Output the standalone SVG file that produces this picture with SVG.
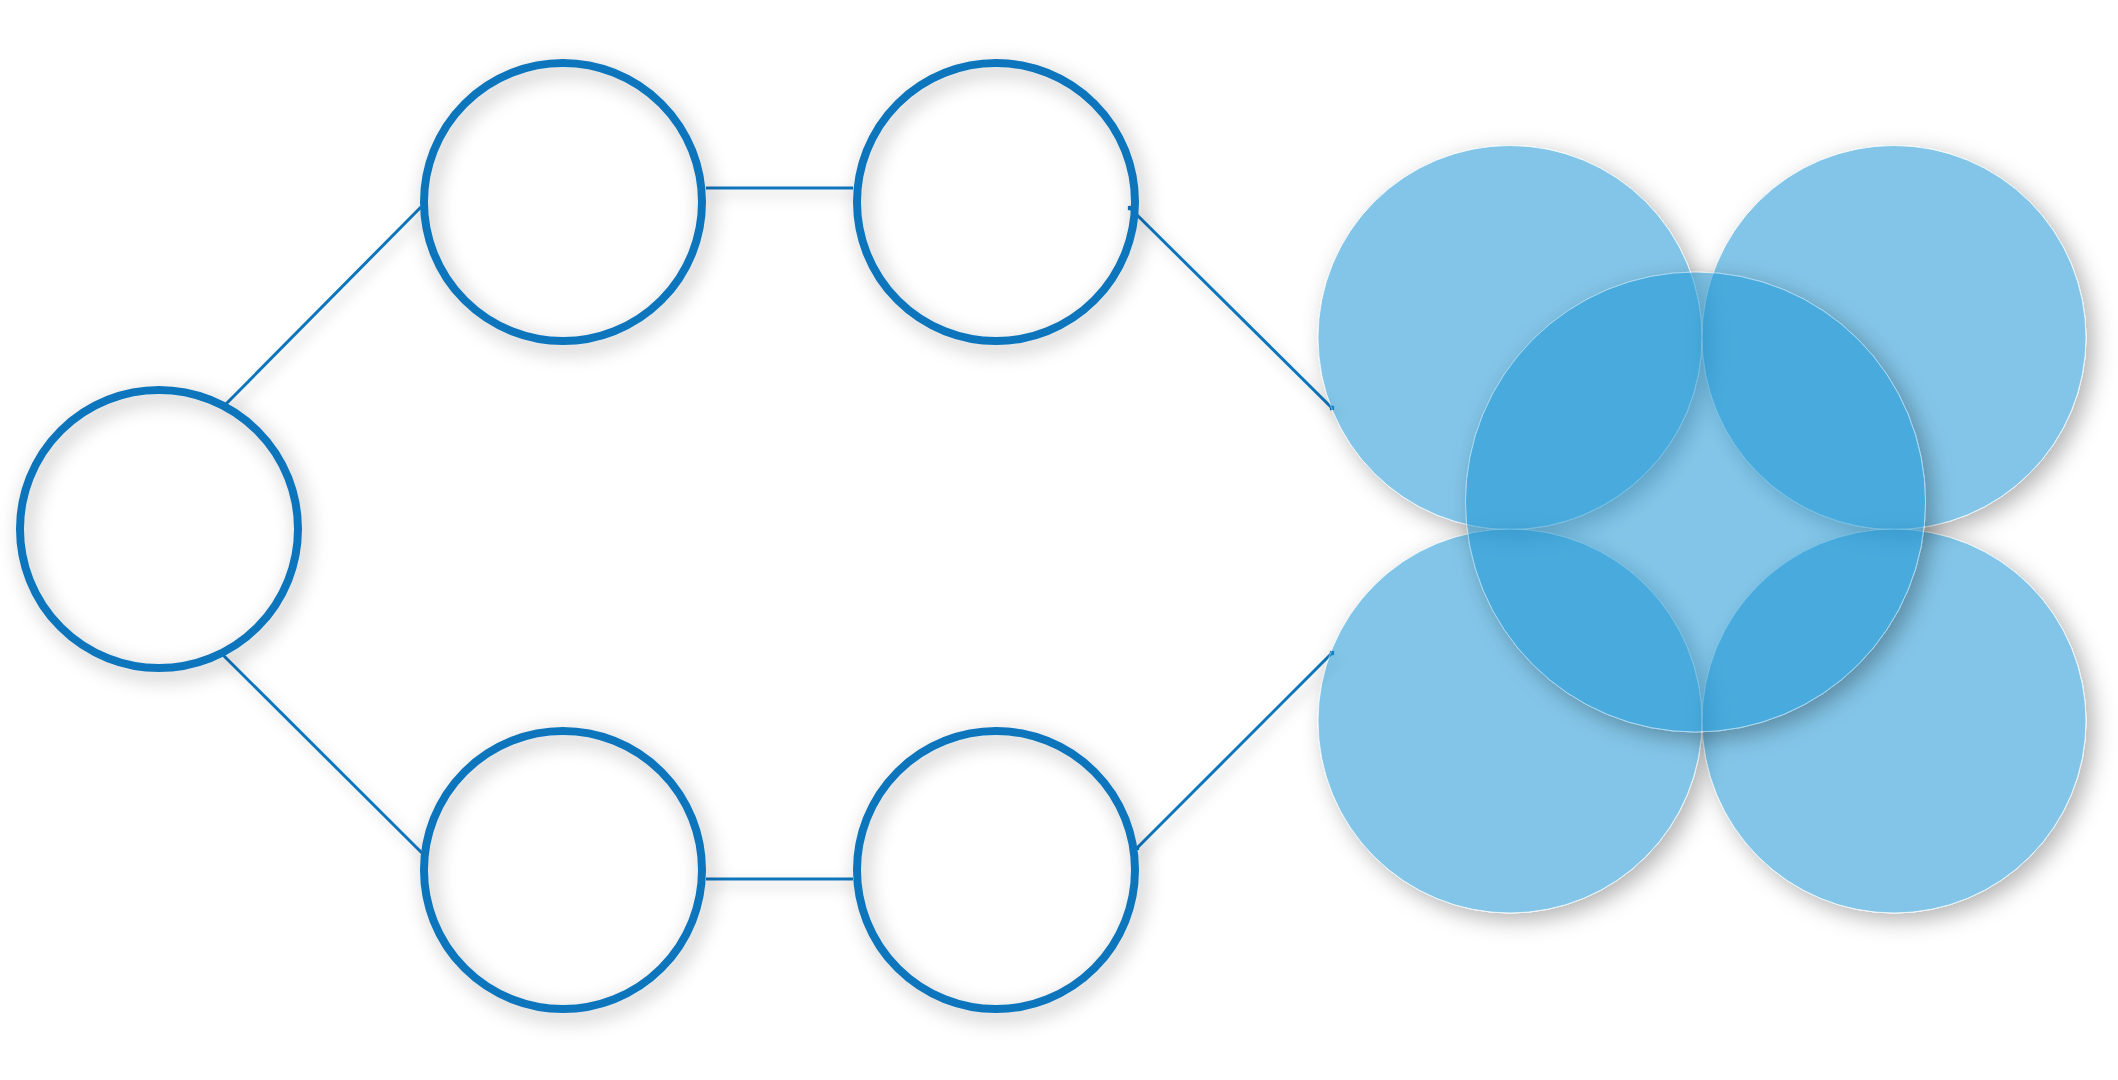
<svg xmlns="http://www.w3.org/2000/svg" width="2118" height="1080" viewBox="0 0 2118 1080">
  <style>
    .ring { fill: none; stroke: #0F75BC; stroke-width: 8; filter: url(#ds); }
    .conn { stroke: #0F75BC; stroke-width: 3; fill: none; stroke-linecap: butt; }
    .blob { fill: #0A92D3; stroke: #FFFFFF; stroke-width: 1; stroke-opacity: 0.8; filter: url(#ko); }
  </style>
  <defs>
    <filter id="ds" x="-25%" y="-25%" width="160%" height="160%">
      <feDropShadow dx="5" dy="6" stdDeviation="10" flood-color="#000000" flood-opacity="0.33"/>
    </filter>
    <filter id="dsl" x="-20%" y="-20%" width="150%" height="150%">
      <feDropShadow dx="5" dy="6" stdDeviation="7" flood-color="#000000" flood-opacity="0.25"/>
    </filter>
    <filter id="ko" x="-25%" y="-25%" width="160%" height="160%">
      <feGaussianBlur in="SourceAlpha" stdDeviation="11"/>
      <feOffset dx="7" dy="7" result="b"/>
      <feFlood flood-color="#000000" flood-opacity="0.3"/>
      <feComposite in2="b" operator="in" result="s"/>
      <feComposite in="s" in2="SourceAlpha" operator="out" result="so"/>
      <feComponentTransfer in="SourceGraphic" result="fg">
        <feFuncA type="linear" slope="0.53"/>
      </feComponentTransfer>
      <feMerge>
        <feMergeNode in="so"/>
        <feMergeNode in="fg"/>
      </feMerge>
    </filter>
    <marker id="tip" viewBox="0 0 6 6" refX="3" refY="3" markerWidth="2" markerHeight="2" orient="auto">
      <path d="M0,3 L3,0 L6,3 L3,6 Z" fill="#0F75BC"/>
    </marker>
  </defs>
  <rect width="2118" height="1080" fill="#FFFFFF"/>

  <g id="connectors" filter="url(#dsl)">
    <line class="conn" x1="226" y1="404" x2="421" y2="207"/>
    <line class="conn" x1="223" y1="655" x2="422" y2="853"/>
    <line class="conn" x1="706" y1="188" x2="853" y2="188"/>
    <line class="conn" x1="706" y1="879" x2="853" y2="879"/>
    <line class="conn" x1="1130" y1="208" x2="1332" y2="408" marker-start="url(#tip)" marker-end="url(#tip)"/>
    <line class="conn" x1="1137" y1="848" x2="1332" y2="653" marker-start="url(#tip)" marker-end="url(#tip)"/>
  </g>

  <g id="node-left"><circle class="ring" cx="159" cy="529" r="139"/></g>
  <g id="node-top-1"><circle class="ring" cx="563" cy="202" r="139"/></g>
  <g id="node-top-2"><circle class="ring" cx="996" cy="202" r="139"/></g>
  <g id="node-bottom-1"><circle class="ring" cx="563" cy="870" r="139"/></g>
  <g id="node-bottom-2"><circle class="ring" cx="996" cy="870" r="139"/></g>

  <g id="cluster">
    <g id="blob-top-left"><circle class="blob" cx="1510" cy="337.5" r="192"/></g>
    <g id="blob-top-right"><circle class="blob" cx="1894" cy="337.5" r="192"/></g>
    <g id="blob-bottom-left"><circle class="blob" cx="1510" cy="721" r="192"/></g>
    <g id="blob-bottom-right"><circle class="blob" cx="1894" cy="721" r="192"/></g>
    <g id="blob-center"><circle class="blob" cx="1695.5" cy="502" r="230"/></g>
  </g>
</svg>
